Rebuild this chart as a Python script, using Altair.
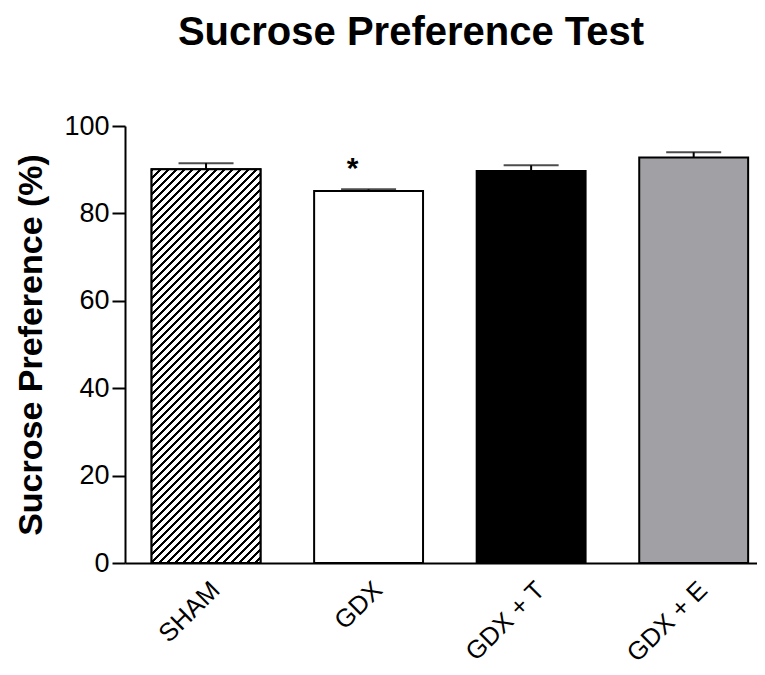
import math
import altair as alt
import pandas as pd

# ---- data ----
groups = ["SHAM", "GDX", "GDX + T", "GDX + E"]
means = [90.1, 85.1, 89.7, 92.8]
sem = [1.4, 0.4, 1.3, 1.2]
sig = ["", "*", "", ""]
y_ticks = [0, 20, 40, 60, 80, 100]

# ---- styles / layout ----
FONT = "Liberation Sans"
fill_colors = ["white", "white", "black", "#a1a0a5"]
PLOT_W, PLOT_H = 632, 437
PAD_IN, PAD_OUT, ALIGN = 0.33, 0.109, 0.75

df = pd.DataFrame({
    "group": groups,
    "mean": means,
    "upper": [m + e for m, e in zip(means, sem)],
    "sig": sig,
})

# diagonal hatch for the SHAM bar, built as a hard-stop linear gradient
step = PLOT_W / (len(groups) - PAD_IN + 2 * PAD_OUT)
bw = step * (1 - PAD_IN)
bh = means[0] / 100 * PLOT_H
k = (bw + bh) / (bw ** 2 + bh ** 2)
period = 8.0 / (bw + bh)
line = 2.6 / (bw + bh)
stops = []
n = int(math.ceil(1 / period))
for i in range(n):
    s = i * period
    e = min(s + line, 1.0)
    stops.append({"offset": round(s, 5), "color": "black"})
    stops.append({"offset": round(e, 5), "color": "black"})
    if e < 1.0:
        stops.append({"offset": round(e, 5), "color": "white"})
        stops.append({"offset": round(min(s + period, 1.0), 5), "color": "white"})
hatch_fill = {
    "gradient": "linear",
    "x1": 0, "y1": 0,
    "x2": round(bw * k, 5), "y2": round(bh * k, 5),
    "stops": stops,
}

x = alt.X(
    "group:N",
    sort=groups,
    scale=alt.Scale(paddingInner=PAD_IN, paddingOuter=PAD_OUT, align=ALIGN),
    axis=alt.Axis(
        title=None, labelAngle=315, labelAlign="right", labelBaseline="top",
        labelFontSize=25.5, labelFont=FONT, labelColor="black",
        labelOffset=1, labelPadding=14, ticks=False,
        domainColor="black", domainWidth=2,
    ),
)
y_scale = alt.Scale(domain=[0, 100], nice=False)
y_axis = alt.Axis(
    values=y_ticks, grid=False,
    title="Sucrose Preference (%)", titleFont=FONT, titleFontSize=34,
    titleFontWeight="bold", titleColor="black", titleAngle=270,
    titleX=-84, titleY=PLOT_H / 2, titleAlign="center", titleBaseline="alphabetic",
    labelFont=FONT, labelFontSize=27, labelColor="black", labelPadding=3,
    tickSize=13, tickWidth=2, tickColor="black",
    domainColor="black", domainWidth=2,
)

base = alt.Chart(df).encode(x=x)

bars = base.mark_bar(stroke="black", strokeWidth=2).encode(
    y=alt.Y("mean:Q", scale=y_scale, axis=y_axis),
    fill=alt.Fill("group:N", scale=alt.Scale(domain=groups, range=fill_colors), legend=None),
)
hatch = base.transform_filter(alt.datum.group == "SHAM").mark_bar(
    fill=hatch_fill, stroke="black", strokeWidth=2
).encode(y=alt.Y("mean:Q", scale=y_scale))

rules = base.mark_rule(color="black", strokeWidth=2).encode(
    y=alt.Y("mean:Q", scale=y_scale), y2="upper:Q"
)
caps = base.mark_tick(color="black", thickness=2, size=55, orient="horizontal").encode(
    y=alt.Y("upper:Q", scale=y_scale)
)
stars = base.mark_text(
    font=FONT, fontSize=30, fontWeight="bold", color="black",
    baseline="alphabetic", dx=-16, dy=-11,
).encode(y=alt.Y("upper:Q", scale=y_scale), text="sig:N")

chart = alt.layer(bars, hatch, rules, caps, stars).properties(
    width=PLOT_W,
    height=PLOT_H,
    title=alt.Title(
        "Sucrose Preference Test", font=FONT, fontSize=40, fontWeight="bold",
        color="black", anchor="middle", offset=59, dx=-30,
    ),
    autosize=alt.AutoSizeParams(type="none"),
    padding={"left": 117, "top": 118, "right": 0, "bottom": 107},
).configure_view(stroke=None)

chart.save("out.html", embed_options={"renderer": "svg", "actions": False})
